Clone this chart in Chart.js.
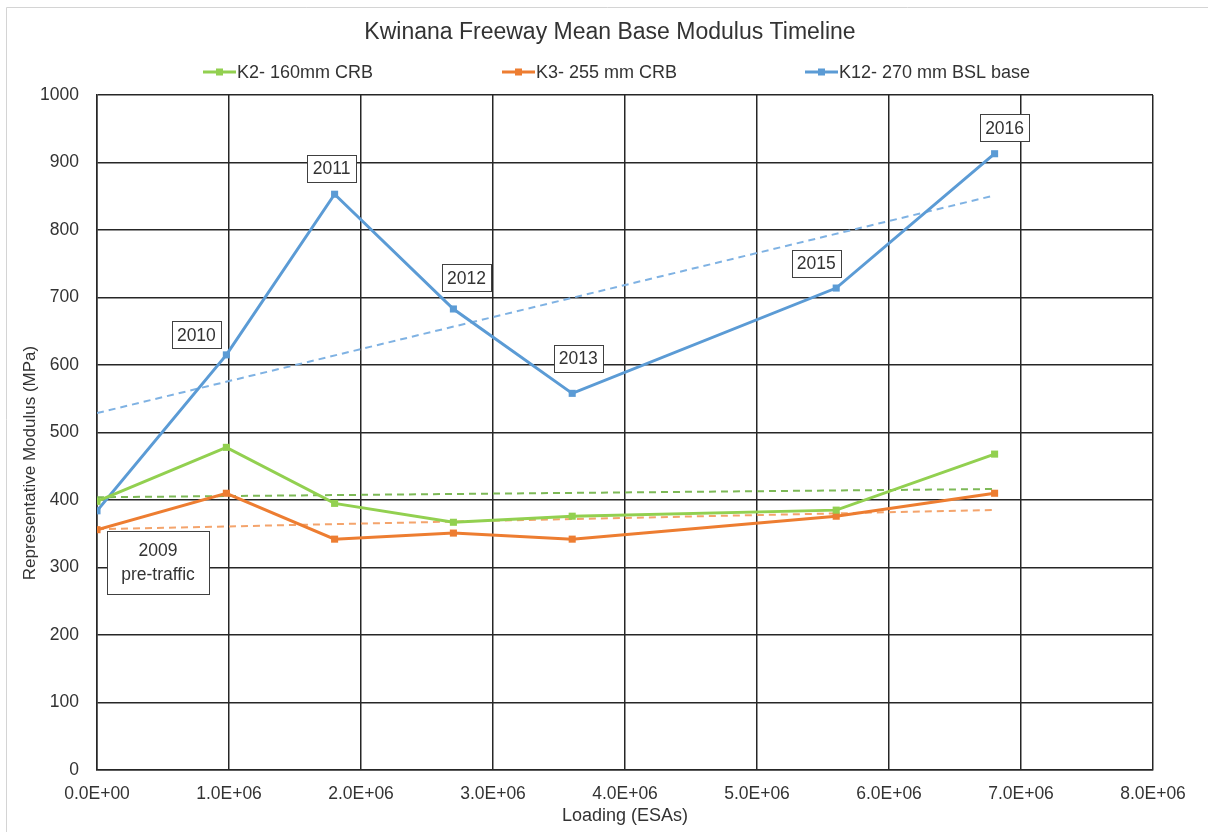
<!DOCTYPE html>
<html>
<head>
<meta charset="utf-8">
<title>Kwinana Freeway Mean Base Modulus Timeline</title>
<script src="https://cdn.jsdelivr.net/npm/chart.js@4.4.1/dist/chart.umd.min.js"></script>
<style>
  html, body { margin: 0; padding: 0; background: #ffffff; }
  #wrap { width: 1208px; height: 832px; position: relative; }
</style>
</head>
<body>
<div id="wrap"><canvas id="chart" width="1208" height="832"></canvas></div>
<script>
// Cumulative loading (ESAs) at each survey
const loading = [0, 0.98e6, 1.8e6, 2.7e6, 3.6e6, 5.6e6, 6.8e6];
// Survey year for each loading step
const surveyYears = ['2009\npre-traffic', '2010', '2011', '2012', '2013', '2015', '2016'];
// Mean base modulus (MPa) per section
const k2Modulus = [398, 478, 395, 367, 376, 385, 468];
const k3Modulus = [356, 410, 342, 351, 342, 376, 410];
const k12Modulus = [384, 615, 853, 683, 558, 714, 913];
const seriesNames = ['K2- 160mm CRB', 'K3- 255 mm CRB', 'K12- 270 mm BSL base'];
// Axis ranges / tick steps
const xTickValues = [0, 1e6, 2e6, 3e6, 4e6, 5e6, 6e6, 7e6, 8e6];
const yTickValues = [0, 100, 200, 300, 400, 500, 600, 700, 800, 900, 1000];
const chartTitle = 'Kwinana Freeway Mean Base Modulus Timeline';

const FONT = '"Liberation Sans", Arial, sans-serif';
const TEXT = '#333333';
const GRID = '#262626';
const colors = ['#92D050', '#ED7D31', '#5B9BD5'];
const trendColors = ['#7DB957', '#F4A46C', '#7FB2E3'];

function toPoints(xs, ys) {
  return xs.map((x, i) => ({ x: x, y: ys[i] }));
}

// Least-squares linear trend over the measured points
function linearTrend(xs, ys) {
  const n = xs.length;
  const mx = xs.reduce((a, b) => a + b, 0) / n;
  const my = ys.reduce((a, b) => a + b, 0) / n;
  let sxy = 0, sxx = 0;
  for (let i = 0; i < n; i++) {
    sxy += (xs[i] - mx) * (ys[i] - my);
    sxx += (xs[i] - mx) * (xs[i] - mx);
  }
  const slope = sxy / sxx;
  const intercept = my - slope * mx;
  const x0 = Math.min(...xs), x1 = Math.max(...xs);
  return [{ x: x0, y: intercept + slope * x0 }, { x: x1, y: intercept + slope * x1 }];
}

function sci(v) {
  if (v === 0) return '0.0E+00';
  const exp = Math.floor(Math.log10(Math.abs(v)));
  const mant = v / Math.pow(10, exp);
  const e = String(Math.abs(exp)).padStart(2, '0');
  return mant.toFixed(1) + 'E' + (exp < 0 ? '-' : '+') + e;
}

const seriesData = [k2Modulus, k3Modulus, k12Modulus];

const datasets = [];
seriesData.forEach((ys, i) => {
  datasets.push({
    label: seriesNames[i],
    data: toPoints(loading, ys),
    borderColor: colors[i],
    backgroundColor: colors[i],
    borderWidth: 3,
    pointStyle: 'rect',
    pointRadius: 5,
    pointBorderWidth: 0,
    tension: 0,
    order: 1
  });
});
seriesData.forEach((ys, i) => {
  datasets.push({
    label: 'trend ' + seriesNames[i],
    data: linearTrend(loading, ys),
    borderColor: trendColors[i],
    borderWidth: 2,
    borderDash: [7, 5],
    pointRadius: 0,
    tension: 0,
    order: 2
  });
});

// Year call-outs positioned relative to the K12 points
const labelOffsets = [[61, 52], [-30, -20], [-3, -26], [13, -31], [6, -35], [-20, -25], [10, -26]];

const decorations = {
  id: 'decorations',
  beforeDraw(chart) {
    const ctx = chart.ctx;
    ctx.save();
    ctx.fillStyle = '#ffffff';
    ctx.fillRect(0, 0, chart.width, chart.height);
    // sheet frame
    ctx.strokeStyle = '#d4d4d4';
    ctx.lineWidth = 1;
    ctx.beginPath();
    ctx.moveTo(6.5, chart.height);
    ctx.lineTo(6.5, 7.5);
    ctx.lineTo(chart.width, 7.5);
    ctx.stroke();
    ctx.restore();
  },
  afterDraw(chart) {
    const ctx = chart.ctx;
    ctx.save();

    // chart title
    ctx.font = '23px ' + FONT;
    ctx.textAlign = 'center';
    ctx.textBaseline = 'middle';
    ctx.fillStyle = TEXT;
    ctx.fillText(chartTitle, 610, 33);

    // legend
    const legendX = [203, 502, 805];
    const legendY = 72;
    ctx.font = '18px ' + FONT;
    ctx.textBaseline = 'middle';
    ctx.textAlign = 'left';
    seriesNames.forEach((name, i) => {
      const x0 = legendX[i];
      ctx.strokeStyle = colors[i];
      ctx.lineWidth = 3;
      ctx.beginPath();
      ctx.moveTo(x0, legendY);
      ctx.lineTo(x0 + 33, legendY);
      ctx.stroke();
      ctx.fillStyle = colors[i];
      ctx.fillRect(x0 + 13, legendY - 3.5, 7, 7);
      ctx.fillStyle = TEXT;
      ctx.fillText(name, x0 + 34, legendY + 1);
    });

    // vertical axis title
    ctx.translate(30, 463);
    ctx.rotate(-Math.PI / 2);
    ctx.font = '17px ' + FONT;
    ctx.textAlign = 'center';
    ctx.fillStyle = TEXT;
    ctx.fillText('Representative Modulus (MPa)', 0, 0);
    ctx.restore();

    // year call-outs
    const meta = chart.getDatasetMeta(2);
    ctx.save();
    ctx.font = '17.5px ' + FONT;
    ctx.textAlign = 'center';
    ctx.textBaseline = 'middle';
    meta.data.forEach((pt, i) => {
      const lines = surveyYears[i].split('\n');
      const cx = pt.x + labelOffsets[i][0];
      const cy = pt.y + labelOffsets[i][1];
      const w = lines.length > 1 ? 102 : 49;
      const h = lines.length > 1 ? 63 : 27;
      const bx = Math.round(cx - w / 2) + 0.5;
      const by = Math.round(cy - h / 2) + 0.5;
      ctx.fillStyle = '#ffffff';
      ctx.fillRect(bx, by, w, h);
      ctx.strokeStyle = '#404040';
      ctx.lineWidth = 1;
      ctx.strokeRect(bx, by, w, h);
      ctx.fillStyle = TEXT;
      if (lines.length > 1) {
        ctx.fillText(lines[0], cx, cy - 12);
        ctx.fillText(lines[1], cx, cy + 12);
      } else {
        ctx.fillText(lines[0], cx, cy + 1);
      }
    });
    ctx.restore();
  }
};

new Chart(document.getElementById('chart'), {
  type: 'line',
  data: { datasets: datasets },
  options: {
    responsive: false,
    animation: false,
    devicePixelRatio: 1,
    layout: { padding: { left: 0, right: 55, top: 95, bottom: 0 } },
    plugins: {
      legend: { display: false },
      tooltip: { enabled: false },
      title: { display: false }
    },
    scales: {
      x: {
        type: 'linear',
        min: 0,
        max: 8e6,
        afterBuildTicks(scale) { scale.ticks = xTickValues.map(v => ({ value: v })); },
        afterFit(scale) { scale.height = 62; },
        ticks: {
          color: TEXT,
          font: { family: FONT, size: 17.5 },
          padding: 14,
          maxRotation: 0,
          callback: v => sci(v)
        },
        grid: { color: GRID, lineWidth: 1.5, drawTicks: false },
        border: { color: GRID, width: 1.5 },
        title: {
          display: true,
          text: 'Loading (ESAs)',
          color: TEXT,
          font: { family: FONT, size: 18 },
          padding: { top: 0, bottom: 5 }
        }
      },
      y: {
        type: 'linear',
        min: 0,
        max: 1000,
        afterBuildTicks(scale) { scale.ticks = yTickValues.map(v => ({ value: v })); },
        afterFit(scale) { scale.width = 97; },
        ticks: {
          color: TEXT,
          font: { family: FONT, size: 17.5 },
          padding: 18,
          callback: v => String(v)
        },
        grid: { color: GRID, lineWidth: 1.5, drawTicks: false },
        border: { color: GRID, width: 1.5 }
      }
    }
  },
  plugins: [decorations]
});
</script>
</body>
</html>
